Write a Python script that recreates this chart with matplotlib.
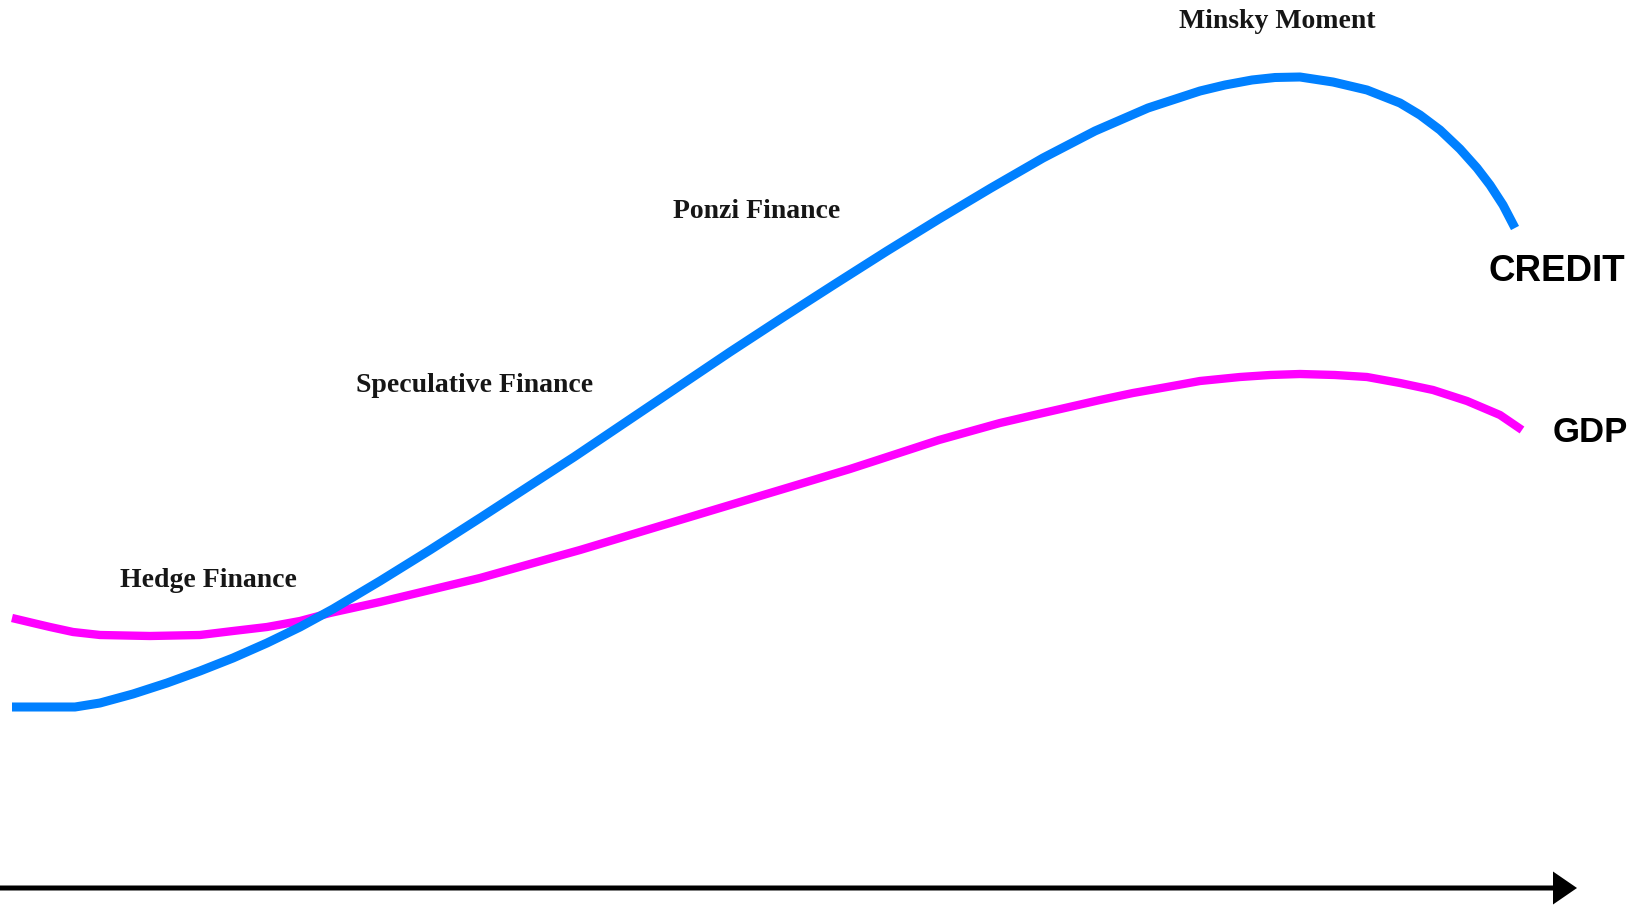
import matplotlib
matplotlib.use("Agg")
import matplotlib.pyplot as plt

# ---- data (pixel-space coordinates, y downward) ----
credit_x = [12, 50, 75, 100, 133, 167, 200, 233, 267, 300, 333, 380, 430, 480, 540,
            574, 626, 678, 730, 782, 835, 887, 939, 991, 1043, 1095, 1148, 1200,
            1225, 1252, 1275, 1300, 1333, 1367, 1400, 1420, 1440, 1460, 1477, 1490,
            1503, 1515]
credit_y = [707, 707, 707, 703, 694, 683, 671, 658, 643, 627, 609, 581, 550, 518, 479,
            457, 422, 387, 352, 318, 284, 251, 219, 188, 158, 131, 108, 91,
            85, 80, 77.5, 77, 82, 90, 103, 115, 130, 149, 168, 185, 205, 228]

gdp_x = [12, 33, 50, 73, 100, 150, 200, 233, 267, 300, 330, 380, 430, 480, 530,
         580, 630, 680, 730, 760, 800, 850, 890, 939, 1000, 1043, 1100, 1133, 1167,
         1200, 1240, 1270, 1300, 1335, 1367, 1400, 1433, 1467, 1500, 1522]
gdp_y = [618, 623, 627, 632, 635, 636, 635, 631, 627, 621, 613, 602, 590, 578, 564,
         550, 535, 520, 505, 496, 484, 469, 456, 440, 423, 413, 400, 393, 387,
         381, 377, 375, 374, 375, 377, 383, 390, 401, 415, 430]

phase_labels = ["Hedge Finance", "Speculative Finance", "Ponzi Finance", "Minsky Moment"]
phase_x = [208, 475, 757, 1277]
phase_y = [587, 392, 218, 28]

series_labels = ["CREDIT", "GDP"]
series_label_x = [1557, 1590]
series_label_y = [281, 442]

W, H = 1634, 908

fig = plt.figure(figsize=(W / 100, H / 100), dpi=100)
ax = fig.add_axes([0, 0, 1, 1])
ax.set_xlim(0, W)
ax.set_ylim(H, 0)
ax.axis("off")

ax.plot(gdp_x, gdp_y, color="#FF00FF", lw=6.0, solid_capstyle="butt", solid_joinstyle="round")
ax.plot(credit_x, credit_y, color="#0080FF", lw=6.5, solid_capstyle="butt", solid_joinstyle="round")

for t, x, y in zip(phase_labels, phase_x, phase_y):
    ax.text(x, y, t, ha="center", va="baseline", fontsize=20,
            family="Liberation Serif", fontweight="bold", color="#161616")

for t, x, y, s in zip(series_labels, series_label_x, series_label_y, [26.5, 25]):
    ax.text(x, y, t, ha="center", va="baseline", fontsize=s,
            family="Liberation Sans", fontweight="bold", color="black")

# time axis arrow
ax.arrow(0, 888, 1577, 0, width=5, head_width=33, head_length=24,
         length_includes_head=True, color="black", lw=0)

fig.savefig("out.png", dpi=100, facecolor="white")
